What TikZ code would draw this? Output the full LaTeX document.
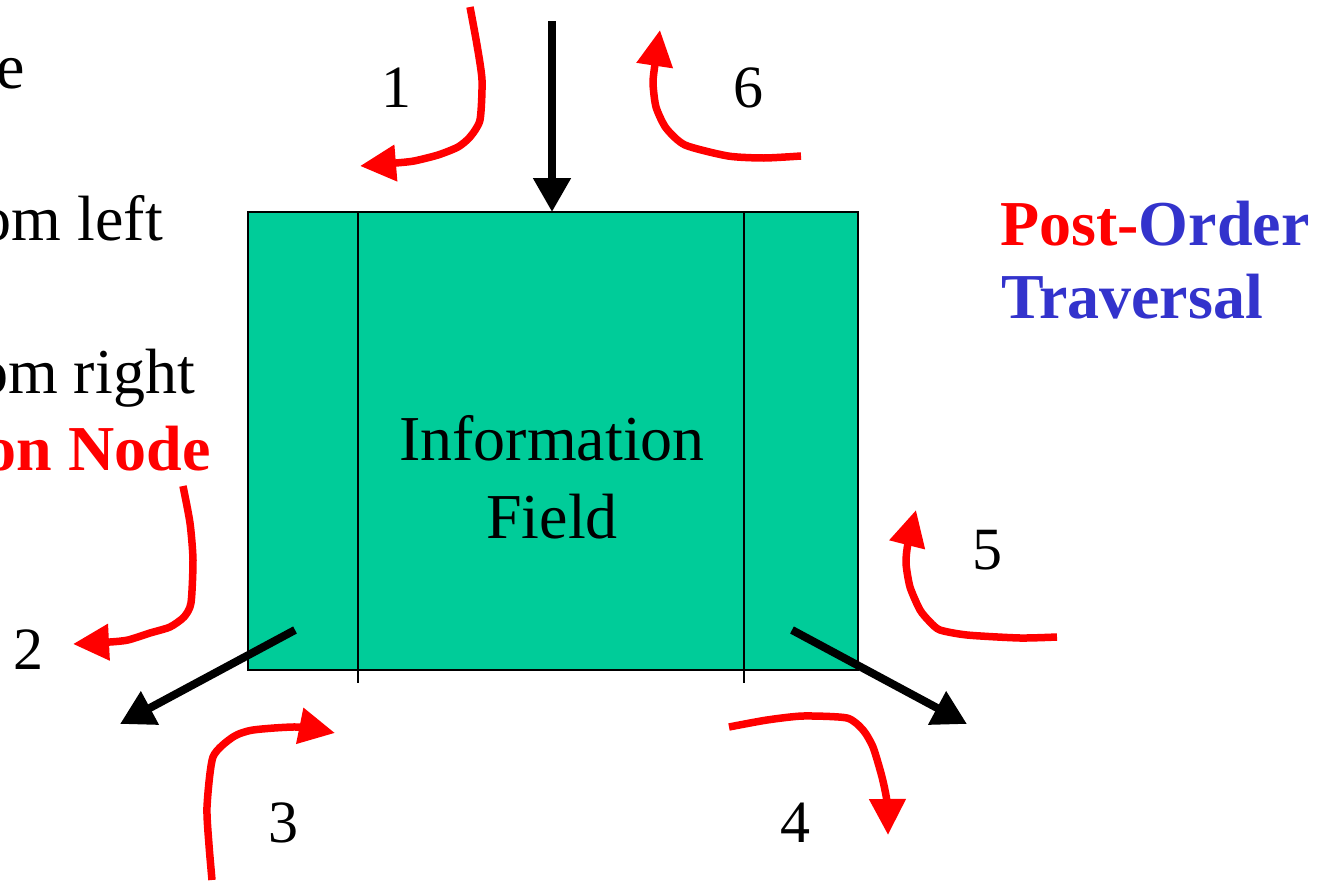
\documentclass[tikz,border=0pt]{standalone}
\usepackage{fontspec}
\setmainfont{Liberation Serif}
\usetikzlibrary{arrows.meta}
\definecolor{boxgreen}{RGB}{0,204,153}
\definecolor{tred}{RGB}{255,0,0}
\definecolor{tblue}{RGB}{51,51,204}
\tikzset{
  big/.style={font=\fontsize{64}{78}\selectfont, inner sep=0pt},
  num/.style={font=\fontsize{60}{72}\selectfont, inner sep=0pt},
  redarrow/.style={draw=tred, line width=7.5pt, line join=round,
     -{Triangle[length=36pt,width=35pt]}, tred},
  blackarrow/.style={draw=black, line width=8pt,
     -{Triangle[length=34pt,width=36pt]}},
  thinline/.style={draw=black, line width=1.8pt}
}
\begin{document}
\begin{tikzpicture}[x=1pt,y=-1pt]
\path[use as bounding box] (0,0) rectangle (1318,881);

% left partial texts
\node[big, anchor=base east] (t1) at (25,88) {e};
\node[big, anchor=base east] (t2) at (163,240) {om left};
\node[big, anchor=base east] (t3) at (195,393) {om right};
\node[big, anchor=base east, text=tred] (t4) at (211,470) {\bfseries on Node};

% node box
\path[fill=boxgreen, thinline] (248,212) rectangle (858,670);
\coordinate (lt) at (358,212);
\coordinate (lb) at (358,683);
\coordinate (rt) at (744,212);
\coordinate (rb) at (744,683);
\draw[thinline] (lt) -- (lb);
\draw[thinline] (rt) -- (rb);
\node[big, anchor=base] (info1) at (552,460) {Information};
\node[big, anchor=base] (info2) at (552,538) {Field};

% black arrows
\coordinate (topS) at (552,21);
\coordinate (topE) at (552,212);
\draw[blackarrow] (topS) -- (topE);
\coordinate (blS) at (295,630);
\coordinate (blE) at (120,724);
\draw[blackarrow] (blS) -- (blE);
\coordinate (brS) at (792,630);
\coordinate (brE) at (967,724);
\draw[blackarrow] (brS) -- (brE);

% red arrows
\draw[redarrow] plot[smooth, tension=0.4] coordinates {(470,7) (477,45) (482,80) (480,120) (470,137) (458,147) (438,155) (414,161) (396,163) (360,166)};
\draw[redarrow] plot[smooth, tension=0.4] coordinates {(801,156) (764,158) (728,156) (685,145) (666,128) (656,107) (653,83) (655,64) (660,30)};
\draw[redarrow] plot[smooth, tension=0.4] coordinates {(183,486) (190,523) (193,560) (191,603) (184,617) (170,627) (150,633) (128,640) (110,642) (73,644)};
\draw[redarrow] plot[smooth, tension=0.4] coordinates {(212,880) (209,845) (207,807) (213,757) (233,737) (253,730) (298,727) (335,733)};
\draw[redarrow] plot[smooth, tension=0.4] coordinates {(729,727) (767,720) (803,716) (847,718) (863,730) (873,747) (882,777) (887,802) (888,835)};
\draw[redarrow] plot[smooth, tension=0.4] coordinates {(1057,637) (1020,638) (967,635) (940,630) (930,622) (920,610) (910,587) (906,563) (908,543) (916,510)};

% numbers
\node[num] (n1) at (396,88) {1};
\node[num] (n6) at (748,88) {6};
\node[num] (n2) at (28,650) {2};
\node[num] (n3) at (283,823) {3};
\node[num] (n4) at (795,823) {4};
\node[num] (n5) at (987,550) {5};

% title
\node[big, anchor=base west, font=\fontsize{64}{78}\selectfont\bfseries] (title1) at (1000,245) {\textcolor{tred}{Post-}\textcolor{tblue}{Order}};
\node[big, anchor=base west, font=\fontsize{64}{78}\selectfont\bfseries, text=tblue] (title2) at (1001,318) {Traversal};
\end{tikzpicture}
\end{document}
